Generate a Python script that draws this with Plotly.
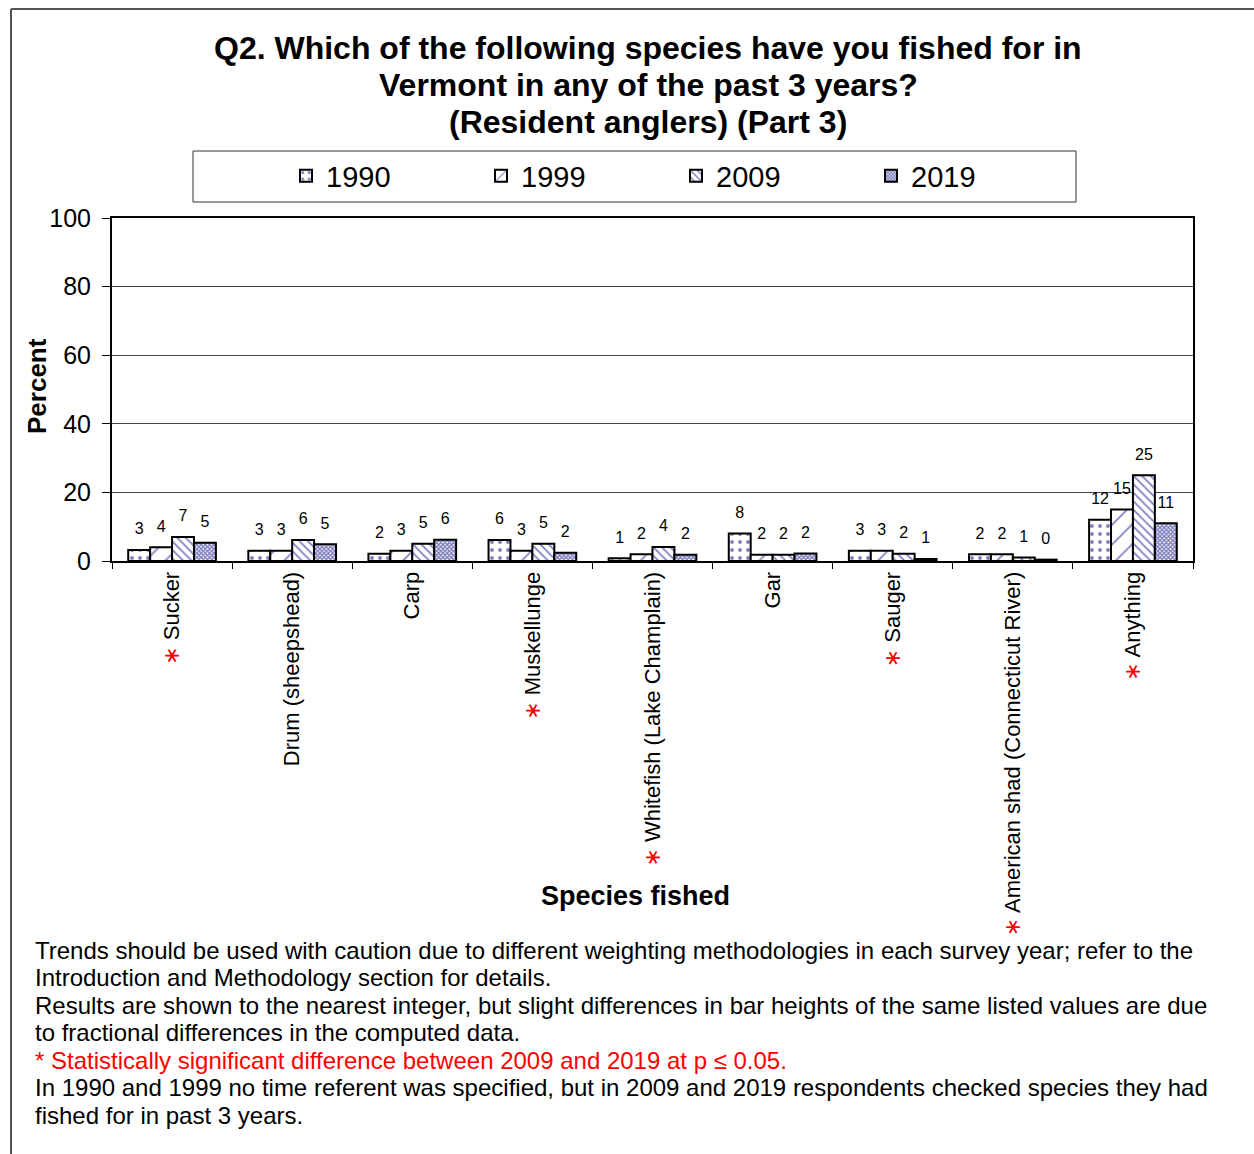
import plotly.graph_objects as go

categories = ["Sucker", "Drum (sheepshead)", "Carp", "Muskellunge",
              "Whitefish (Lake Champlain)", "Gar", "Sauger",
              "American shad (Connecticut River)", "Anything"]
significant = [True, False, False, True, True, False, True, True, True]

years = ["1990", "1999", "2009", "2019"]
v1990 = [3.2, 3.0, 2.1, 6.1, 0.8, 8.0, 3.0, 2.0, 12.0]
v1999 = [4.0, 3.0, 3.0, 3.0, 2.0, 1.8, 3.0, 2.0, 15.0]
v2009 = [7.0, 6.1, 5.0, 5.0, 4.1, 1.8, 2.1, 1.0, 25.0]
v2019 = [5.3, 4.9, 6.2, 2.4, 1.8, 2.2, 0.6, 0.4, 11.0]
l1990 = ["3", "3", "2", "6", "1", "8", "3", "2", "12"]
l1999 = ["4", "3", "3", "3", "2", "2", "3", "2", "15"]
l2009 = ["7", "6", "5", "5", "4", "2", "2", "1", "25"]
l2019 = ["5", "5", "6", "2", "2", "2", "1", "0", "11"]

yticks = [0, 20, 40, 60, 80, 100]

title_lines = ["Q2. Which of the following species have you fished for in",
               "Vermont in any of the past 3 years?",
               "(Resident anglers) (Part 3)"]

footnotes = [
    ("Trends should be used with caution due to different weighting methodologies in each survey year; refer to the", "black"),
    ("Introduction and Methodology section for details.", "black"),
    ("Results are shown to the nearest integer, but slight differences in bar heights of the same listed values are due", "black"),
    ("to fractional differences in the computed data.", "black"),
    ("* Statistically significant difference between 2009 and 2019 at p \u2264 0.05.", "red"),
    ("In 1990 and 1999 no time referent was specified, but in 2009 and 2019 respondents checked species they had", "black"),
    ("fished for in past 3 years.", "black"),
]

FONT = "Liberation Sans, Arial, sans-serif"
W, H = 1254, 1154
L, R, T, B = 112, 1193, 218, 561

def px(x):
    return (x - L) / (R - L)

def py(y):
    return (B - y) / (B - T)

STAR = ("<span style='color:red;font-size:22px;font-family:DejaVu Sans'>"
        "\u2217</span> ")
tick_text = [(STAR + c) if s else c for c, s in zip(categories, significant)]

navy = "#000080"
styles = [
    dict(shape=".", size=8, solidity=0.18),
    dict(shape="/", size=14, solidity=0.12),
    dict(shape="\\", size=6, solidity=0.3),
    dict(shape="x", size=3, solidity=0.7),
]
series = [v1990, v1999, v2009, v2019]
labels = [l1990, l1999, l2009, l2019]
GAP = 0.27

fig = go.Figure()
for yr, vals, lab, st in zip(years, series, labels, styles):
    fig.add_trace(go.Bar(
        name=yr, x=categories, y=vals, offsetgroup=yr,
        marker=dict(color="white", line=dict(color="black", width=2),
                    pattern=dict(fgcolor=navy, bgcolor="white", **st)),
    ))
for yr, vals, lab in zip(years, series, labels):
    fig.add_trace(go.Scatter(
        x=categories, y=vals, text=lab, mode="markers+text",
        offsetgroup=yr, textposition="top center", cliponaxis=False,
        marker=dict(size=17, color="rgba(0,0,0,0)"),
        textfont=dict(size=16, color="black", family=FONT),
        showlegend=False, hoverinfo="skip",
    ))

fig.update_layout(
    width=W, height=H,
    margin=dict(l=L, r=W - R, t=T, b=H - B, autoexpand=False),
    paper_bgcolor="white", plot_bgcolor="white",
    font=dict(family=FONT, color="black"),
    barmode="group", bargap=GAP, bargroupgap=0,
    scattermode="group", scattergap=GAP,
    showlegend=True,
    legend=dict(orientation="h", x=px(286), xanchor="left",
                y=py(176), yanchor="middle",
                font=dict(size=29, family=FONT),
                entrywidth=150, entrywidthmode="pixels",
                itemwidth=30, bgcolor="rgba(0,0,0,0)", borderwidth=0),
    xaxis=dict(tickmode="array", tickvals=categories, ticktext=tick_text,
               tickangle=-90, tickfont=dict(size=22, family=FONT),
               showline=True, linecolor="black", linewidth=2, mirror=True,
               ticks="outside", tickson="boundaries", ticklen=6,
               tickcolor="black", tickwidth=1),
    yaxis=dict(range=[0, 100], tickvals=yticks,
               tickfont=dict(size=25, family=FONT),
               showline=True, linecolor="black", linewidth=2, mirror=True,
               ticks="outside", ticklen=8, tickcolor="black", tickwidth=1,
               ticklabelstandoff=6,
               showgrid=True, gridcolor="#444444", gridwidth=1,
               zeroline=False),
)

shapes = [
    dict(type="line", xref="paper", yref="paper", x0=px(11), x1=px(11),
         y0=py(9), y1=py(H + 5), line=dict(color="#555555", width=2)),
    dict(type="line", xref="paper", yref="paper", x0=px(11), x1=px(W + 5),
         y0=py(9), y1=py(9), line=dict(color="#555555", width=2)),
    dict(type="rect", xref="paper", yref="paper", x0=px(193), x1=px(1076),
         y0=py(151), y1=py(202), line=dict(color="#333333", width=1)),
]
fig.update_layout(shapes=shapes)

ann = []
for i, t in enumerate(title_lines):
    ann.append(dict(text="<b>" + t + "</b>", x=px(648), y=py(48 + i * 37),
                    xanchor="center", yanchor="middle",
                    font=dict(size=32, family=FONT)))
ann += [
    dict(text="<b>Percent</b>", x=px(37), y=py(386), textangle=-90,
         xanchor="center", yanchor="middle", font=dict(size=26, family=FONT)),
    dict(text="<b>Species fished</b>", x=px(635), y=py(896),
         xanchor="center", yanchor="middle", font=dict(size=27, family=FONT)),
]
for i, (t, c) in enumerate(footnotes):
    ann.append(dict(text=t, x=px(33), y=py(950 + i * 27.5), xanchor="left",
                    yanchor="middle", font=dict(size=24, family=FONT, color=c)))
for a in ann:
    a.update(xref="paper", yref="paper", showarrow=False)
fig.update_layout(annotations=ann)

fig.write_html("out.html")
